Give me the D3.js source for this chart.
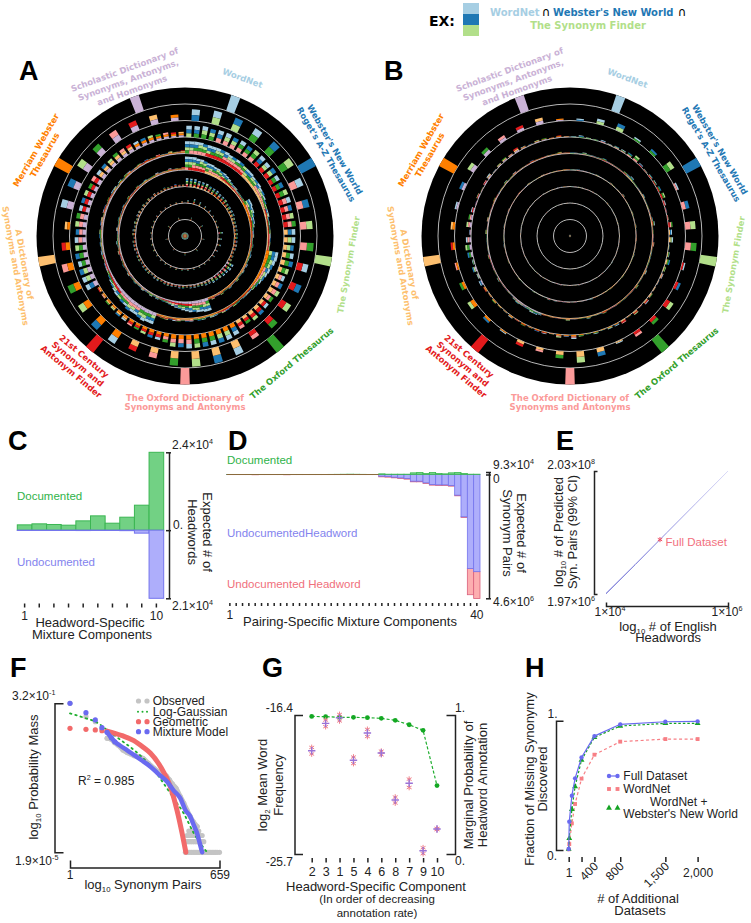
<!DOCTYPE html>
<html>
<head>
<meta charset="utf-8">
<script src="https://cdn.jsdelivr.net/npm/d3@7"></script>
<style>
body { margin: 0; background: #fff; }
text { font-family: "Liberation Sans", Arial, sans-serif; fill: #222; }
.ring text, text.dv { font-family: "DejaVu Sans", sans-serif; font-weight: bold; }
</style>
</head>
<body>
<div id="fig"></div>
<script>
// the nine resources, clockwise from the top
var setNames = ["WordNet", "Webster's New World", "The Synonym Finder", "The Oxford Thesaurus",
    "The Oxford Dictionary", "21st Century", "A Dictionary", "Merriam Webster", "Scholastic"];
var setColors = d3.schemePaired.slice(0, 9);
var setLabels = [
    ["WordNet"],
    ["Webster's New World", "Roget's A-Z Thesaurus"],
    ["The Synonym Finder"],
    ["The Oxford Thesaurus"],
    ["The Oxford Dictionary of", "Synonyms and Antonyms"],
    ["21st Century", "Synonym and", "Antonym Finder"],
    ["A Dictionary of", "Synonyms and Antonyms"],
    ["Merriam Webster", "Thesaurus"],
    ["Scholastic Dictionary of", "Synonyms, Antonyms,", "and Homonyms"]];
var setLabelRadius = [[168], [173, 163], [166], [166], [162, 171], [157, 167, 177], [163, 172], [172, 162], [177, 166, 155]];

// panel A, one list per ring from the outside in (bar lengths)
var a1 = [16, 16, 16, 16, 16, 16, 16, 16, 16];
var a2 = [11,13,13,13,14,14,13,12,12,13,11,11,11,11,8,14,15,15,14,10,10,13,13,12,12,11,8,5,12,12,13,11,11,10,9,6];
var a3 = [11,11,12,11,12,12,11,12,11,12,12,11,12,11,11,12,12,11,11,12,11,11,10,11,12,10,9,10,11,9,9,10,10,8,9,
    12,13,13,13,13,13,13,12,12,9,8,8,7,6,6,5,5,4,4,3,3,
    12,12,12,11,12,11,11,10,11,11,10,10,10,9,10,9,9,8,9,8,8,7,7,7,6,6,5,5];
var a4 = [12,12,12,12,11,11,11,11,11,11,10,10,10,10,9,9,9,8,8,8,7,7,6,5,4,4,4,3,3,3,3,3,3,3,3,
    12,12,11,10,9,8,7,6,5,4,3,3,3,2,3,3,2,3,3,2,3,3,2,3,3,2,3,3,2,3,3,2,3,3,2,
    11,11,12,11,10,10,11,9,9,8,8,7,6,5,4,3,3,3,2,3,3,2,3,2,3,3,2,3,3,2,3,3,2,3,2,3,3,2,3,2,3,3,2,2,3,2,3,2,2,3,2,2,3,2,2,3];
var a5 = [13,13,13,12,12,11,10,10,9,9,8,8,7,6,5,4,4,3,3,3,3,
    8,8,7,7,6,5,5,4,3,3,3,2,2,3,2,2,3,2,2,3,2,3,2,2,3,2,2,3,2,2,3,2,2,3,2,
    12,12,11,11,10,10,9,8,7,6,5,4,3,3,2,3,2,3,2,2,3,2,2,3,2,2,3,2,2,3,2,2,2,3,2,2,3,2,2,2,3,2,2,3,2,2,2,3,2,2,3,2,2,2,3,2,2,3,2,2,2,3,2,2,2,3,2,2,2,3];
var a6 = [8,8,8,7,7,7,6,6,6,5,5,5,4,4,4,4,3,3,3,3,3,3,3,3,3,2,3,3,
    7,7,6,6,5,5,5,4,4,3,3,3,3,2,3,3,2,3,3,3,2,3,3,2,3,3,3,2,3,3,2,3,3,3,2,3,3,2,3,2,3,3,2,3,2,3,2,3,2,2,3,2,2,3,2,2];
var a7 = [3,5,4,3,3,2,2,2,5,4,4,3,3,2,2,2,2,2,2,2,2,2,2,2,2,2,2,2,2,2,2,2,2,2,2,2];
var a8 = [3,4,3,3,3,2,3,3,3];
var a9 = [3.4];

// panel B, same layout, far shorter bars
var b1 = [16, 16, 16, 16, 16, 16, 16, 16, 16];
var b2 = [2,5,7,3,4,9,3,7,10,11,3,5,8,6,5,2,8,11,7,4,5,2,4,7,5,3,4,4,3,5,7,6,5,5,6,2];
var b3 = [1,2,1,1,2,1,2,2,3,5,2,1,2,2,3,4,2,1,1,4,3,4,1,2,4,2,2,1,1,2,3,1,3,1,3,2,2,1,2,1,
    2,4,2,3,1,2,2,1,2,1,2,1,1,2,1,2,3,2,4,2,5,6,5,2,5,4,3,1,2,1,2,3,1,2,3,2,4,2,1,2,2,1,2,1];
var b4 = [1,1,1,2,1,1,1,1,2,1,1,1,1,1,2,2,3,1,1,1,1,2,1,1,1,1,1,2,3,1,1,1,1,2,1,1,1,1,1,1,
    2,1,1,1,2,1,1,1,1,1,1,1,1,1,2,1,1,1,2,1,1,1,1,2,1,1,1,1,1,1,2,3,3,2,2,2,3,2,1,1,
    1,1,1,2,1,1,1,1,1,2,1,1,1,1,1,2,1,1,2,1,1,1,1,2,1,1,1,1,2,1,1,2,1,1,1,1,2,1,1,1,1,1,1,2,1,1];
var b5 = [.5,.5,1,.5,.5,.5,.5,.5,1,.5,.5,.5,.5,1,.5,.5,.5,.5,1.5,.5,.5,.5,.5,.5,1,.5,.5,.5,1,.5,
    .5,.5,1,.5,.5,.5,.5,1,.5,.5,.5,.5,.5,.5,1,.5,.5,.5,.5,1,.5,.5,.5,.5,.5,.5,1,.5,.5,.5,
    .5,.5,.5,1,.5,.5,.5,1,.5,1.5,.5,.5,.5,.5,1,.5,.5,.5,.5,.5,1,.5,.5,.5,.5,.5,1,.5,.5,.5,
    .5,1,.5,.5,.5,.5,.5,1,.5,.5,.5,.5,1,.5,.5,.5,.5,.5,1,.5,.5,.5,1,.5,.5,.5,.5,1,.5,.5,.5,.5,.5,.5,1,.5];
var b6 = [.3,.3,.5,.3,.3,.3,.5,.3,.3,.3,.3,.5,.3,.3,.3,.3,.3,.5,.3,.3,.3,.3,.5,.3,.3,.3,.3,.3,
    .5,.3,.3,.3,.3,.5,.3,.3,.3,.3,.3,.5,.3,.3,.3,.3,.5,.3,.3,.3,.3,.3,.5,.3,.3,.3,.3,.3,
    .3,.5,.3,.3,.3,.3,.3,.5,.3,.3,.3,.3,.3,.3,.5,.3,.3,.3,.3,.3,.5,.3,.3,.3,.3,.3,.3,.3];
var b7 = [.3,.3,.3,.3,.3,.3,.3,.3,.3,.3,.3,.3,.3,.3,.3,.3,.3,.3,.3,.3,.3,.3,.3,.3,.3,.3,.3,.3,.3,.3,.3,.3,.3,.3,.3,.3];
var b8 = [.3,.3,.3,.3,.3,.3,.3,.3,.3];
var b9 = [1.1];

// panel C
var headComp = d3.range(1, 11);
var cDocumented = [1640, 1950, 1750, 1540, 2870, 4410, 2150, 4000, 7700, 24000];
var cUndocumented = [100, 100, 100, 100, 120, 100, 100, 150, 920, 21000];

// panel D
var pairComp = d3.range(1, 41);
var dDocumented = [4000,4000,3000,4000,3000,4000,4000,3000,4000,3000,4000,4000,3000,4000,4000,3000,5000,7000,9000,12000,9000,6000,4000,4000,
    25000,12000,12000,12000,12000,62000,74000,37000,74000,37000,25000,62000,74000,37000,12000,12000];
var dUndocPair = [1500,1500,1500,1500,1500,1500,1500,1500,1500,1500,1500,1500,1500,1500,1500,1500,1500,1500,1500,1500,1500,1500,1500,1500,
    62000,74000,99000,124000,148000,247000,247000,309000,371000,383000,383000,408000,767000,1570000,3490000,3610000];
var dUndocHead = [3000,3000,3000,3000,9000,3000,3000,3000,3000,9000,3000,3000,3000,3000,3000,3000,3000,3000,3000,3000,3000,3000,3000,3000,
    25000,25000,25000,25000,25000,25000,25000,25000,25000,25000,25000,25000,25000,25000,977000,1000000];

// panel E
var eHeadwords = [1e4, 3e4, 1e5, 3e5, 1e6];
var ePairs = [2.0e6, 5.95e6, 2.0e7, 6.03e7, 2.03e8];
var eFullX = 76700, eFullY = 1.53e7;

// panel F
var obsK = [1,2,3,4,5,6,7,8,10,12,14,16,20,24,30,38,46,55,65,75,85,100,120,140,160,185,210,250];
var obsP = [.32,.134,.0966,.0625,.0326,.0305,.0245,.0211,.0152,.01277,.0117,.0105,.00984,.00863,.00637,.00459,.00369,.00317,.00279,.00214,.00165,.00124,.000722,.000466,.000301,.000195,.000141,.000102];
var tailK1 = [150,160,170,182,195,210,225,240,258,276,296,318,340,365,392,420,450,482,517,555,595,659];
var tailK2 = [150,162,175,190,205,222,240,260,282,305,333];
var tailK3 = [161,175,190,206,224,243,264,286,310];
var tailK4 = [174,190,208,226,246,268];
var tailP = [1.9e-5, 3.8e-5, 5.7e-5, 7.6e-5];
var mixK = [1,2,3,4,5,6,7,9,12,16,22,33,45,68,90,120,150,186,215,249,280,310];
var mixP = [.32,.174,.108,.065,.048,.034,.026,.0197,.01486,.011,.0079,.0051,.0033,.0019,.00107,.00065,.0003,.000195,.000113,.000066,.000034,.000019];
var geoK = [1,2,3,4,5,7,10,16,24,33,51,78,104,130,153];
var geoP = [.0625,.0586,.0561,.0537,.0514,.0451,.0379,.0279,.0181,.0122,.0051,.00139,.0003,.000066,.000019];
var gaussK = [1,2,3,5,9,16,24,38,58,90,139,216,385];
var gaussP = [.166,.12,.0966,.0561,.0292,.0152,.00883,.00412,.00173,.000647,.000243,.0000659,.000019];

// panel G
var gOrder = ["2", "3", "1", "5", "4", "6", "8", "7", "9", "10"];
var gAnnot = [.99, .988, .983, .983, .981, .976, .962, .93, .89, .492];
var gFreq = [-18.79, -16.96, -16.58, -19.43, -17.6, -18.94, -22.09, -20.97, -25.48, -24.03];
var gFreqErr = [.22, .22, .22, .22, .24, .12, .2, .28, .2, .04];

// panel H
var hDatasets = [1, 10, 50, 100, 200, 400, 800, 1500, 2000];
var hFull = [.008, .219, .42, .554, .716, .881, .972, .992, .995];
var hWordNet = [.005, .046, .206, .356, .552, .737, .838, .858, .858];
var hWordNetWebster = [.008, .09, .314, .49, .696, .871, .959, .979, .979];

var green = "#2fb34a", blue = "#7474ee", red = "#f2707e";

var svg = d3.select("#fig").append("svg")
    .attr("width", 751)
    .attr("height", 923);

// text with optional super/subscript parts
function rich(x, y, parts, opt) {
    opt = opt || {};
    var size = opt.size || 12;
    var t = svg.append("text")
        .attr("transform", "translate(" + x + "," + y + ")" + (opt.rotate ? " rotate(" + opt.rotate + ")" : ""))
        .attr("text-anchor", opt.anchor || "start")
        .style("font-size", size + "px");
    if (opt.fill) t.style("fill", opt.fill);
    var shift = 0;
    parts.forEach(function (p) {
        var isArr = Array.isArray(p);
        var str = isArr ? p[0] : p;
        var kind = isArr ? p[1] : null;
        var want = kind == "sup" ? -size * .38 : kind == "sub" ? size * .25 : 0;
        t.append("tspan")
            .attr("dy", want - shift)
            .style("font-size", (kind ? size * .6 : size) + "px")
            .text(str);
        shift = want;
    });
    return t;
}

function panelLetter(str, x, y) {
    svg.append("text").attr("x", x).attr("y", y)
        .style("font-size", "27px").style("font-weight", "bold").style("fill", "#000")
        .text(str);
}

function styleAxis(g, width) {
    g.selectAll("path, line").attr("stroke", "#222").attr("stroke-width", width || 1.5);
    g.selectAll("text").style("font-size", "12px").attr("fill", "#222");
}

// all k-subsets of the nine sets, in colex order
function subsets(k) {
    var out = [];
    (function rec(start, cur) {
        if (cur.length == k) { out.push(cur); return; }
        for (var i = start; i < 9; i++) rec(i + 1, cur.concat(i));
    })(0, []);
    out.sort(function (a, b) {
        for (var i = k - 1; i >= 0; i--) if (a[i] != b[i]) return a[i] - b[i];
        return 0;
    });
    return out;
}

var ringWidth = 16.5;
var barDegrees = [3.7, 3.7, 2.9, 2.9, 2.9, 2.5, 2.2, 2.5, 360];

function drawRings(cx, cy, rings) {
    var g = svg.append("g").attr("class", "ring")
        .attr("transform", "translate(" + cx + "," + cy + ")");
    var len = d3.scaleLinear().domain([0, 16]).range([0, ringWidth]);
    var arc = d3.arc();

    g.append("circle").attr("r", ringWidth * 9).attr("fill", "#000");
    g.selectAll(".guide").data(d3.range(1, 9)).enter().append("circle")
        .attr("r", function (d) { return d * ringWidth; })
        .attr("fill", "none").attr("stroke", "#e6e6e6").attr("stroke-width", .8);

    rings.forEach(function (values, ri) {
        var k = ri + 1;
        var base = (8 - ri) * ringWidth;
        var combos = subsets(k);
        var step = 2 * Math.PI / combos.length;
        var half = barDegrees[ri] * Math.PI / 360;
        combos.forEach(function (combo, i) {
            var h = len(values[i] || 0);
            var mid = (i + .5) * step;
            g.selectAll(null).data(combo).enter().append("path")
                .attr("d", function (s, j) {
                    return arc({
                        innerRadius: base + h * (k - 1 - j) / k,
                        outerRadius: base + h * (k - j) / k,
                        startAngle: mid - half,
                        endAngle: mid + half
                    });
                })
                .attr("fill", function (s) { return setColors[s]; });
        });
    });

    setLabels.forEach(function (lines, s) {
        var a = 20 + 40 * s;
        var rot = a <= 90 ? a : a < 270 ? a - 180 : a - 360;
        lines.forEach(function (line, n) {
            var r = setLabelRadius[s][n];
            var rad = a * Math.PI / 180;
            g.append("text")
                .attr("transform", "translate(" + (r * Math.sin(rad)) + "," + (-r * Math.cos(rad)) + ") rotate(" + rot + ")")
                .attr("text-anchor", "middle")
                .attr("dy", "0.35em")
                .style("font-size", "8.5px")
                .style("fill", setColors[s])
                .text(line);
        });
    });
}

drawRings(185, 236, [a1, a2, a3, a4, a5, a6, a7, a8, a9]);
drawRings(570, 236, [b1, b2, b3, b4, b5, b6, b7, b8, b9]);
panelLetter("A", 19, 80);
panelLetter("B", 384, 80);

// EX legend
var exY = d3.scaleBand().domain([0, 1, 2]).range([3, 36]);
svg.selectAll(".ex").data([0, 1, 2]).enter().append("rect")
    .attr("x", 463).attr("y", function (d) { return exY(d); })
    .attr("width", 16).attr("height", exY.bandwidth())
    .attr("fill", function (d) { return setColors[d]; });
svg.append("text").attr("class", "dv").attr("x", 429).attr("y", 26)
    .style("font-size", "14px").style("fill", "#000").text("EX:");
[["WordNet", 490, setColors[0]], ["Webster's New World", 553, setColors[1]]].forEach(function (d) {
    svg.append("text").attr("class", "dv").attr("x", d[1]).attr("y", 15.5)
        .style("font-size", "10px").style("fill", d[2]).text(d[0]);
});
[541.5, 677.5].forEach(function (x) {
    svg.append("text").attr("x", x).attr("y", 15.5)
        .style("font-family", "'DejaVu Sans'").style("font-size", "12px").style("fill", "#000").text("∩");
});
svg.append("text").attr("class", "dv").attr("x", 588).attr("y", 29)
    .attr("text-anchor", "middle").style("font-size", "10px").style("fill", setColors[2])
    .text("The Synonym Finder");

// ---- C ----
panelLetter("C", 8, 450);
var cX = d3.scaleBand().domain(headComp).range([17.3, 163.7]);
var cY = d3.scaleLinear().domain([-21000, 24000]).range([598.3, 452.3]);

svg.selectAll(".cDoc").data(headComp).enter().append("rect")
    .attr("x", function (d) { return cX(d); })
    .attr("width", cX.bandwidth())
    .attr("y", function (d, i) { return cY(cDocumented[i]); })
    .attr("height", function (d, i) { return cY(0) - cY(cDocumented[i]); })
    .attr("fill", "#72d184").attr("stroke", "#3bb652");
svg.selectAll(".cUn").data(headComp).enter().append("rect")
    .attr("x", function (d) { return cX(d); })
    .attr("width", cX.bandwidth())
    .attr("y", cY(0))
    .attr("height", function (d, i) { return cY(-cUndocumented[i]) - cY(0); })
    .attr("fill", "#aeaefb").attr("stroke", "#7474ee");

var cAxis = svg.append("g").attr("transform", "translate(169,0)")
    .call(d3.axisRight(cY).tickValues([24000, 0, -21000]).tickFormat("").tickSize(2).tickSizeOuter(0));
styleAxis(cAxis);
cAxis.selectAll("line").attr("x1", -3);

var cBottom = svg.append("g").attr("transform", "translate(0,603.5)")
    .call(d3.axisBottom(cX).tickSize(4).tickPadding(3.5)
        .tickFormat(function (d) { return d == 1 || d == 10 ? d : ""; }));
styleAxis(cBottom);
cBottom.select(".domain").remove();

rich(17, 500, ["Documented"], { size: 11.5, fill: green });
rich(17, 566, ["Undocumented"], { size: 11.5, fill: "#8383ee" });
rich(172, 449, ["2.4×10", ["4", "sup"]]);
rich(173, 529, ["0."]);
rich(172, 610, ["2.1×10", ["4", "sup"]]);
rich(203, 532, ["Expected # of"], { size: 13, rotate: 90, anchor: "middle" });
rich(188, 532, ["Headwords"], { size: 13, rotate: 90, anchor: "middle" });
rich(90, 627, ["Headword-Specific"], { size: 13, anchor: "middle" });
rich(92, 639, ["Mixture Components"], { size: 13, anchor: "middle" });

// ---- D ----
panelLetter("D", 228, 450);
var dX = d3.scaleBand().domain(pairComp).range([226.7, 480]);
var dY = d3.scaleLinear().domain([-4.6e6, 9.3e4]).range([598.3, 472]);

svg.selectAll(".dRed").data(pairComp).enter().append("rect")
    .attr("x", function (d) { return dX(d); })
    .attr("width", dX.bandwidth())
    .attr("y", function (d, i) { return dY(-dUndocPair[i]); })
    .attr("height", function (d, i) { return dY(-dUndocPair[i] - dUndocHead[i]) - dY(-dUndocPair[i]); })
    .attr("fill", "#fdaeb0").attr("stroke", "#d9607c").attr("stroke-width", .8);
svg.selectAll(".dBlue").data(pairComp).enter().append("rect")
    .attr("x", function (d) { return dX(d); })
    .attr("width", dX.bandwidth())
    .attr("y", dY(0))
    .attr("height", function (d, i) { return dY(-dUndocPair[i]) - dY(0); })
    .attr("fill", "#aeaefb").attr("stroke", "#7474ee").attr("stroke-width", .8);
svg.selectAll(".dGreen").data(pairComp).enter().append("rect")
    .attr("x", function (d) { return dX(d); })
    .attr("width", dX.bandwidth())
    .attr("y", function (d, i) { return dY(dDocumented[i]); })
    .attr("height", function (d, i) { return dY(0) - dY(dDocumented[i]); })
    .attr("fill", "#72d184").attr("stroke", "#3bb652").attr("stroke-width", .8);
svg.append("path")
    .attr("d", "M" + dX.range()[0] + "," + dY(0) + "H" + dX(25))
    .attr("stroke", "#8a6a3c").attr("stroke-width", 1);

var dAxis = svg.append("g").attr("transform", "translate(489,0)")
    .call(d3.axisRight(dY).tickValues([9.3e4, 0, -4.6e6]).tickFormat("").tickSize(2).tickSizeOuter(0));
styleAxis(dAxis);
dAxis.selectAll("line").attr("x1", -3);

var dBottom = svg.append("g").attr("transform", "translate(0,603)")
    .call(d3.axisBottom(dX).tickSize(3).tickPadding(4.5)
        .tickFormat(function (d) { return d == 1 || d == 40 ? d : ""; }));
styleAxis(dBottom);
dBottom.select(".domain").remove();

rich(227, 464, ["Documented"], { size: 11.5, fill: green });
rich(227, 537, ["UndocumentedHeadword"], { size: 11.5, fill: "#8383ee" });
rich(227, 588, ["Undocumented Headword"], { size: 11.5, fill: "#f0707c" });
rich(493, 469, ["9.3×10", ["4", "sup"]]);
rich(493, 483, ["0"]);
rich(493, 606, ["4.6×10", ["6", "sup"]]);
rich(517, 533, ["Expected # of"], { size: 13, rotate: 90, anchor: "middle" });
rich(503, 533, ["Synonym Pairs"], { size: 13, rotate: 90, anchor: "middle" });
rich(350, 626, ["Pairing-Specific Mixture Components"], { size: 13, anchor: "middle" });

// ---- E ----
panelLetter("E", 556, 450);
var eX = d3.scaleLog().domain([1e4, 1e6]).range([606, 728]);
var eY = d3.scaleLog().domain([1.97e6, 2.03e8]).range([594, 471]);

var grad = svg.append("defs").append("linearGradient")
    .attr("id", "eFade").attr("gradientUnits", "userSpaceOnUse")
    .attr("x1", eX(1e4)).attr("y1", eY(1.97e6)).attr("x2", eX(1e6)).attr("y2", eY(2.03e8));
grad.append("stop").attr("offset", 0).attr("stop-color", "#4646c8");
grad.append("stop").attr("offset", 1).attr("stop-color", "#dcdcf8");

svg.append("path")
    .datum(eHeadwords)
    .attr("d", d3.line()
        .x(function (d) { return eX(d); })
        .y(function (d, i) { return eY(ePairs[i]); }))
    .attr("fill", "none").attr("stroke", "url(#eFade)").attr("stroke-width", 1);
svg.append("path")
    .attr("d", d3.symbol().type(d3.symbolAsterisk).size(18)())
    .attr("transform", "translate(" + eX(eFullX) + "," + eY(eFullY) + ")")
    .attr("fill", "none").attr("stroke", "#ee4f66").attr("stroke-width", 1);

var eLeft = svg.append("g").attr("transform", "translate(594,0)")
    .call(d3.axisLeft(eY).tickValues([]).tickSizeOuter(-3.5));
styleAxis(eLeft);
var eBottom = svg.append("g").attr("transform", "translate(0,606)")
    .call(d3.axisBottom(eX).tickValues([]).tickSizeOuter(-3.5));
styleAxis(eBottom);

rich(665.5, 546, ["Full Dataset"], { size: 11.5, fill: red });
rich(595, 469, ["2.03×10", ["8", "sup"]], { anchor: "end" });
rich(595, 606, ["1.97×10", ["6", "sup"]], { anchor: "end" });
rich(610, 616, ["1×10", ["4", "sup"]], { anchor: "middle" });
rich(727, 616, ["1×10", ["6", "sup"]], { anchor: "middle" });
rich(668, 631, ["log", ["10", "sub"], " # of English"], { size: 13, anchor: "middle" });
rich(668, 642, ["Headwords"], { size: 13, anchor: "middle" });
rich(563, 532, ["log", ["10", "sub"], " # of Predicted"], { size: 13, rotate: -90, anchor: "middle" });
rich(577, 532, ["Syn. Pairs (99% CI)"], { size: 13, rotate: -90, anchor: "middle" });

// ---- F ----
panelLetter("F", 10, 677);
var fX = d3.scaleLog().domain([1, 659]).range([70, 219.5]);
var fY = d3.scaleLog().domain([1.9e-5, .32]).range([852.3, 703.3]);

function fDots(ks, ps, color) {
    svg.selectAll(null).data(ks).enter().append("circle")
        .attr("cx", function (d) { return fX(d); })
        .attr("cy", function (d, i) { return fY(Array.isArray(ps) ? ps[i] : ps); })
        .attr("r", 2.6).attr("fill", color);
}
function fLine(ks, ps, color, w, from) {
    return svg.append("path")
        .datum(ks)
        .attr("d", d3.line()
            .defined(function (d) { return d >= from; })
            .curve(d3.curveMonotoneX)
            .x(function (d) { return fX(d); })
            .y(function (d, i) { return fY(ps[i]); }))
        .attr("fill", "none").attr("stroke", color).attr("stroke-width", w)
        .attr("stroke-linecap", "round");
}

fDots(obsK, obsP, "#c4c4c4");
[tailK1, tailK2, tailK3, tailK4].forEach(function (ks, i) { fDots(ks, tailP[i], "#c4c4c4"); });
fLine(obsK, obsP, "#c4c4c4", 5, 5);
fLine(gaussK, gaussP, "#1fae2f", 1.8, 1).attr("stroke-dasharray", "1.5,4");
fDots(geoK.slice(0, 5), geoP.slice(0, 5), "#f26a6a");
fLine(geoK, geoP, "#f26a6a", 5, 5);
fDots(mixK.slice(0, 7), mixP.slice(0, 7), "#6a6af0");
fLine(mixK, mixP, "#6a6af0", 4.5, 5);

var fLeft = svg.append("g").attr("transform", "translate(54.5,0)")
    .call(d3.axisLeft(fY).tickValues([]).tickSizeOuter(-9));
styleAxis(fLeft);
var fBottom = svg.append("g").attr("transform", "translate(0,867.5)")
    .call(d3.axisBottom(fX).tickValues([]).tickSizeOuter(-7));
styleAxis(fBottom);

var fLegend = [["Observed", "#c4c4c4", 705], ["Log-Gaussian", "#1fae2f", 715.7], ["Geometric", "#f26a6a", 725.7], ["Mixture Model", "#6a6af0", 735.7]];
fLegend.forEach(function (d, i) {
    rich(152.7, d[2], [d[0]], { size: 12 });
    var r = i == 1 ? 1 : 2.6;
    svg.selectAll(null).data(i == 1 ? [138, 142.5, 147] : [138.5, 147]).enter().append("circle")
        .attr("cx", function (x) { return x; }).attr("cy", d[2] - 4)
        .attr("r", r).attr("fill", d[1]);
});

rich(78, 785, ["R", ["2", "sup"], " = 0.985"], { size: 12 });
rich(12, 700, ["3.2×10", ["-1", "sup"]], { size: 12 });
rich(15, 865, ["1.9×10", ["-5", "sup"]], { size: 12 });
rich(70, 879, ["1"], { anchor: "middle" });
rich(220, 879, ["659"], { anchor: "middle" });
rich(143, 889, ["log", ["10", "sub"], " Synonym Pairs"], { size: 13, anchor: "middle" });
rich(38, 777, ["log", ["10", "sub"], " Probability Mass"], { size: 13, rotate: -90, anchor: "middle" });

// ---- G ----
panelLetter("G", 262, 677);
var gX = d3.scalePoint().domain(gOrder).range([311.7, 437]);
var gFreqY = d3.scaleLinear().domain([-25.7, -16.4]).range([854, 715]);
var gProbY = d3.scaleLinear().domain([0, 1]).range([854, 715]);

svg.append("path")
    .datum(gOrder)
    .attr("d", d3.line()
        .x(function (d) { return gX(d); })
        .y(function (d, i) { return gProbY(gAnnot[i]); }))
    .attr("fill", "none").attr("stroke", "#1fae2f").attr("stroke-width", 1.2).attr("stroke-dasharray", "3,2");
svg.selectAll(".gDot").data(gOrder).enter().append("circle")
    .attr("cx", function (d) { return gX(d); })
    .attr("cy", function (d, i) { return gProbY(gAnnot[i]); })
    .attr("r", 2.4).attr("fill", "#14a823");

var starPath = d3.symbol().type(d3.symbolAsterisk).size(22)();
[-1, 1].forEach(function (sign) {
    svg.selectAll(null).data(gOrder).enter().append("path")
        .attr("d", starPath)
        .attr("transform", function (d, i) {
            return "translate(" + gX(d) + "," + gFreqY(gFreq[i] + sign * gFreqErr[i]) + ")";
        })
        .attr("fill", "none").attr("stroke", "#f0808a").attr("stroke-width", 1);
});
svg.selectAll(".gPlus").data(gOrder).enter().append("path")
    .attr("d", d3.symbol().type(d3.symbolPlus).size(20)())
    .attr("transform", function (d, i) { return "translate(" + gX(d) + "," + gFreqY(gFreq[i]) + ")"; })
    .attr("fill", "none").attr("stroke", "#9a72d6").attr("stroke-width", 1.4);

var gLeft = svg.append("g").attr("transform", "translate(294.5,0)")
    .call(d3.axisLeft(gFreqY).tickValues([]).tickSizeOuter(-8.5));
styleAxis(gLeft);
var gRight = svg.append("g").attr("transform", "translate(455,0)")
    .call(d3.axisRight(gProbY).tickValues([]).tickSizeOuter(-8.5));
styleAxis(gRight);
var gBottom = svg.append("g").attr("transform", "translate(0,858)")
    .call(d3.axisBottom(gX).tickSize(4.5).tickPadding(5).tickSizeOuter(0));
styleAxis(gBottom);
gBottom.select(".domain").remove();
gBottom.selectAll("text").style("font-size", "12.5px");

rich(293, 712, ["-16.4"], { anchor: "end" });
rich(293, 866, ["-25.7"], { anchor: "end" });
rich(455, 712, ["1."]);
rich(455, 865, ["0."]);
rich(376, 891, ["Headword-Specific Component"], { size: 13, anchor: "middle" });
rich(377, 903, ["(In order of decreasing"], { size: 11.5, anchor: "middle" });
rich(377, 917, ["annotation rate)"], { size: 11.5, anchor: "middle" });
rich(267, 785, ["log", ["2", "sub"], " Mean Word"], { size: 13, rotate: -90, anchor: "middle" });
rich(283, 785, ["Frequency"], { size: 13, rotate: -90, anchor: "middle" });
rich(473, 785, ["Marginal Probability of"], { size: 13, rotate: -90, anchor: "middle" });
rich(487, 785, ["Headword Annotation"], { size: 13, rotate: -90, anchor: "middle" });

// ---- H ----
panelLetter("H", 525, 677);
var hX = d3.scaleLinear().domain([1, 2000]).range([568.7, 697.6]);
var hY = d3.scaleLinear().domain([0, 1]).range([850, 720.7]);
var hColors = ["#6a6af0", "#f77f85", "#14a323"];
var hSymbols = [d3.symbolCircle, d3.symbolSquare, d3.symbolTriangle];
var hDash = [null, "3,2.5", "2.5,2"];

[hWordNet, hWordNetWebster, hFull].forEach(function (vals) {
    var s = vals === hFull ? 0 : vals === hWordNet ? 1 : 2;
    svg.append("path")
        .datum(hDatasets)
        .attr("d", d3.line()
            .x(function (d) { return hX(d); })
            .y(function (d, i) { return hY(vals[i]); }))
        .attr("fill", "none").attr("stroke", hColors[s]).attr("stroke-width", 1.2)
        .attr("stroke-dasharray", hDash[s]);
    svg.selectAll(null).data(hDatasets).enter().append("path")
        .attr("d", d3.symbol().type(hSymbols[s]).size(15)())
        .attr("transform", function (d, i) { return "translate(" + hX(d) + "," + hY(vals[i]) + ")"; })
        .attr("fill", hColors[s]);
});

var hLeft = svg.append("g").attr("transform", "translate(556,0)")
    .call(d3.axisLeft(hY).tickValues([]).tickSizeOuter(-7.5));
styleAxis(hLeft);
var hBottom = svg.append("g").attr("transform", "translate(0,857)")
    .call(d3.axisBottom(hX).tickValues([1, 200, 400, 800, 1500, 2000]).tickSize(5).tickSizeOuter(0)
        .tickFormat(function (d) { return d == 200 ? "" : d3.format(",")(d); }));
styleAxis(hBottom);
hBottom.select(".domain").remove();
hBottom.selectAll("text")
    .attr("y", 20)
    .attr("dy", 0)
    .each(function (d) {
        if (d == 400 || d == 800 || d == 1500) {
            d3.select(this)
                .attr("text-anchor", "end")
                .attr("y", 0)
                .attr("transform", "translate(4,10) rotate(-45)");
        }
    });

[776, 789, 808].forEach(function (y, s) {
    if (s == 0) {
        svg.append("line").attr("x1", 609).attr("x2", 617.5).attr("y1", y).attr("y2", y)
            .attr("stroke", hColors[0]).attr("stroke-width", 1.2);
    }
    svg.selectAll(null).data([609, 617.5]).enter().append("path")
        .attr("d", d3.symbol().type(hSymbols[s]).size(15)())
        .attr("transform", function (x) { return "translate(" + x + "," + y + ")"; })
        .attr("fill", hColors[s]);
});

rich(623.3, 779.5, ["Full Dataset"], { size: 12 });
rich(623.3, 792.7, ["WordNet"], { size: 12 });
rich(650, 806, ["WordNet +"], { size: 12 });
rich(623.3, 817.5, ["Webster's New World"], { size: 12 });
rich(547.5, 718, ["1."]);
rich(547, 860, ["0."]);
rich(638, 903, ["# of Additional"], { size: 13, anchor: "middle" });
rich(640, 914.5, ["Datasets"], { size: 13, anchor: "middle" });
rich(533.5, 779, ["Fraction of Missing Synonymy"], { size: 13, rotate: -90, anchor: "middle" });
rich(547, 779, ["Discovered"], { size: 13, rotate: -90, anchor: "middle" });
</script>
</body>
</html>
